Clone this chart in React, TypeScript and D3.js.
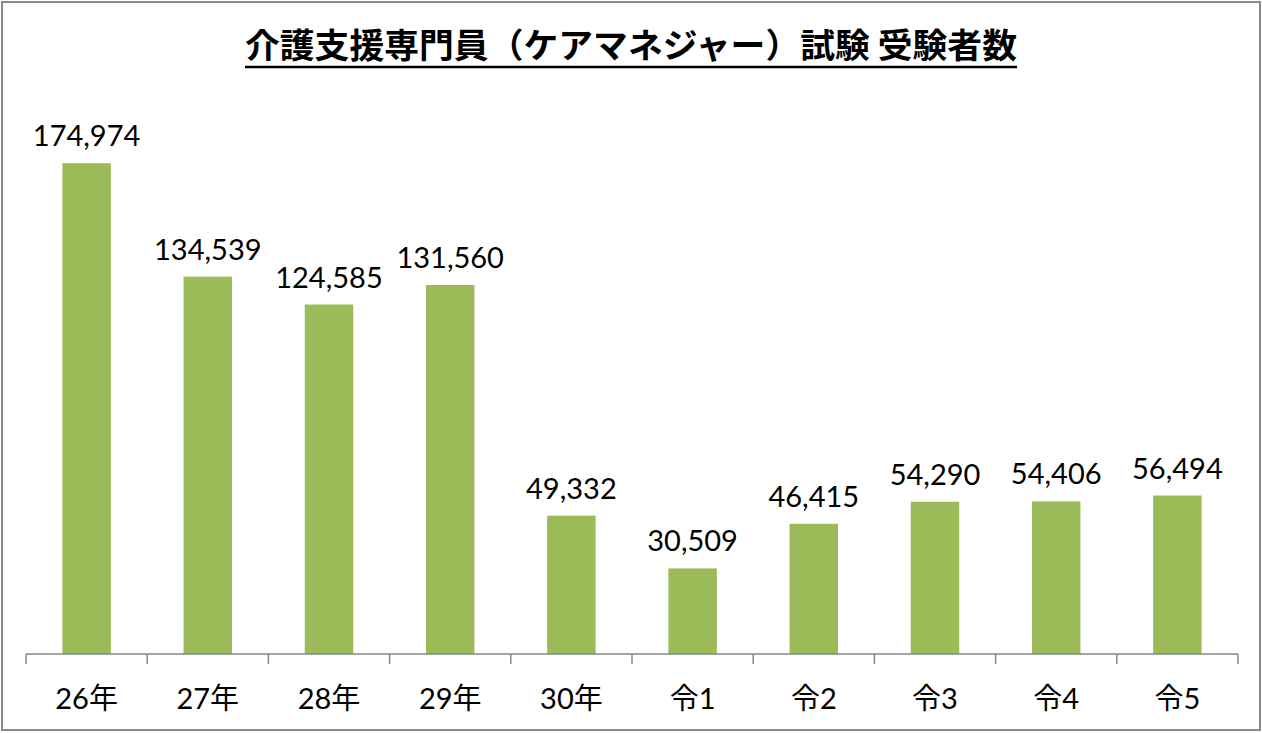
import React from "react";
import * as d3 from "d3";

const categories = ["26年", "27年", "28年", "29年", "30年", "令1", "令2", "令3", "令4", "令5"];
const examinees = [174974, 134539, 124585, 131560, 49332, 30509, 46415, 54290, 54406, 56494];
const yDomain = [0, 200000];
const titleText = "介護支援専門員（ケアマネジャー）試験 受験者数";

const W = 1262;
const H = 733;
const plot = { left: 26, right: 1238, top: 93, bottom: 654 };
const labelFont = "Lato, 'Open Sans', 'Noto Sans CJK JP', sans-serif";

export default function App() {
  const x = d3.scaleBand<string>().domain(categories).range([plot.left, plot.right]).paddingInner(0.6).paddingOuter(0.3);
  const y = d3.scaleLinear().domain(yDomain).range([plot.bottom, plot.top]);
  const tickXs = d3.range(categories.length + 1).map((i) => plot.left + i * ((plot.right - plot.left) / categories.length));
  const fmt = d3.format(",");

  return (
    <svg width={W} height={H} style={{ position: "absolute", left: 0, top: 0, background: "#fff" }}>
      <rect x={0} y={0} width={W} height={H} fill="#fff" />
      <rect x={2} y={2} width={1258} height={728} fill="none" stroke="#8a8a8a" strokeWidth={2} />
      <text
        x={631}
        y={58}
        textAnchor="middle"
        fontFamily="'Noto Sans CJK JP', sans-serif"
        fontWeight="bold"
        fontSize={34}
        textLength={772}
        lengthAdjust="spacingAndGlyphs"
        fill="#000"
      >
        {titleText}
      </text>
      <line x1={245} x2={1017} y1={67} y2={67} stroke="#000" strokeWidth={2.5} />
      {categories.map((c, i) => {
        const v = examinees[i];
        const bx = x(c)!;
        const bw = x.bandwidth();
        return (
          <g key={c}>
            <rect x={bx} y={y(v)} width={bw} height={plot.bottom - y(v)} fill="#9BBB59" />
            <text
              x={bx + bw / 2}
              y={y(v) - 17}
              textAnchor="middle"
              fontFamily={labelFont}
              fontSize={29}
              fill="#000"
            >
              {fmt(v)}
            </text>
            <text
              x={bx + bw / 2}
              y={709}
              textAnchor="middle"
              fontFamily={labelFont}
              fontSize={29}
              fill="#000"
            >
              {c}
            </text>
          </g>
        );
      })}
      <line x1={plot.left} x2={plot.right} y1={plot.bottom} y2={plot.bottom} stroke="#868686" strokeWidth={1.5} />
      {tickXs.map((tx, i) => (
        <line key={i} x1={tx} x2={tx} y1={plot.bottom} y2={plot.bottom + 10} stroke="#868686" strokeWidth={1.5} />
      ))}
    </svg>
  );
}
